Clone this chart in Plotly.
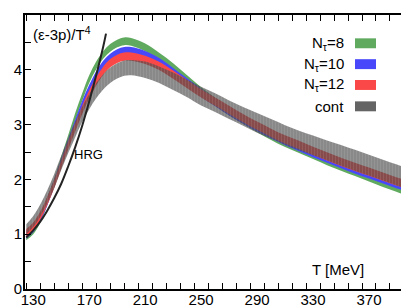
import plotly.graph_objects as go

T = [125, 130, 135, 140, 145, 150, 155, 160, 165, 170, 175, 180, 185, 190, 195, 200,
     210, 220, 230, 240, 250, 260, 270, 280, 290, 300, 310, 320, 330, 340, 350, 360,
     370, 380, 390, 400]

nt8 = [0.96, 1.07, 1.28, 1.60, 1.95, 2.35, 2.74, 3.14, 3.50, 3.83, 4.08, 4.27, 4.40, 4.48, 4.52, 4.51,
       4.41, 4.24, 4.05, 3.83, 3.61, 3.42, 3.24, 3.08, 2.93, 2.79, 2.66, 2.55, 2.44, 2.33, 2.23, 2.13,
       2.03, 1.93, 1.84, 1.75]
nt8_err = [0.07] * 36

nt10 = [0.99, 1.11, 1.31, 1.60, 1.93, 2.30, 2.66, 3.02, 3.36, 3.65, 3.90, 4.09, 4.22, 4.30, 4.34, 4.34,
        4.27, 4.14, 3.96, 3.77, 3.58, 3.41, 3.24, 3.09, 2.95, 2.82, 2.70, 2.59, 2.48, 2.38, 2.28, 2.18,
        2.09, 2.00, 1.91, 1.83]
nt10_err = [0.075] * 36

nt12 = [1.02, 1.14, 1.34, 1.61, 1.92, 2.27, 2.62, 2.95, 3.27, 3.55, 3.79, 3.98, 4.12, 4.20, 4.24, 4.24,
        4.18, 4.07, 3.91, 3.74, 3.57, 3.42, 3.27, 3.12, 2.98, 2.85, 2.73, 2.63, 2.52, 2.42, 2.32, 2.23,
        2.14, 2.05, 1.96, 1.88]
nt12_err = [0.075] * 36

cont = [1.09, 1.23, 1.43, 1.68, 1.97, 2.30, 2.62, 2.91, 3.19, 3.42, 3.62, 3.78, 3.90, 3.98, 4.03, 4.04,
        4.00, 3.91, 3.79, 3.66, 3.52, 3.40, 3.27, 3.15, 3.03, 2.92, 2.81, 2.71, 2.62, 2.53, 2.44, 2.35,
        2.26, 2.17, 2.08, 1.99]
cont_err = [0.09, 0.10, 0.11, 0.12, 0.13, 0.13, 0.14, 0.14, 0.14, 0.14, 0.14, 0.14, 0.14, 0.14, 0.14, 0.14,
            0.15, 0.15, 0.16, 0.16, 0.17, 0.17, 0.17, 0.17, 0.18, 0.18, 0.18, 0.18, 0.18, 0.18, 0.19, 0.19,
            0.19, 0.19, 0.19, 0.19]

T_hrg = [125, 130, 135, 140, 145, 150, 155, 160, 165, 170, 175, 180, 182]
hrg = [0.94, 1.07, 1.23, 1.43, 1.66, 1.92, 2.24, 2.59, 2.98, 3.42, 3.90, 4.42, 4.66]

x_labels = [130, 170, 210, 250, 290, 330, 370]
y_labels = [0, 1, 2, 3, 4]

bands = [
    ("N<sub>τ</sub>=8", nt8, nt8_err, "rgb(96,170,96)"),
    ("N<sub>τ</sub>=10", nt10, nt10_err, "rgb(72,72,250)"),
    ("N<sub>τ</sub>=12", nt12, nt12_err, "rgb(250,72,72)"),
    ("cont", cont, cont_err, "rgba(75,75,75,0.66)"),
]

fig = go.Figure()
for name, c, e, col in bands:
    lo = [a - b for a, b in zip(c, e)]
    hi = [a + b for a, b in zip(c, e)]
    fig.add_trace(go.Scatter(x=T, y=lo, mode="lines", line=dict(width=0, shape="spline"),
                             showlegend=False, hoverinfo="skip"))
    kw = {}
    if name == "cont":
        kw["fillpattern"] = dict(shape="|", fgcolor="rgba(235,235,235,0.35)", bgcolor=col,
                                 size=3, solidity=0.2)
    fig.add_trace(go.Scatter(x=T, y=hi, mode="lines", line=dict(width=0, shape="spline"),
                             fill="tonexty", fillcolor=col, showlegend=False, name=name, **kw))

fig.add_trace(go.Scatter(x=T_hrg, y=hrg, mode="lines", line=dict(color="rgb(35,35,35)", width=2, shape="spline"),
                         showlegend=False))

fig.update_layout(
    width=409, height=307,
    margin=dict(l=17, r=8, t=5, b=26),
    plot_bgcolor="white", paper_bgcolor="white",
    font=dict(family="Liberation Sans, Arial, sans-serif", size=15, color="black"),
    showlegend=False,
    xaxis=dict(range=[124.1, 398.6], tickmode="linear", tick0=135, dtick=10, ticks="inside",
               ticklen=6, tickcolor="black", showticklabels=False, showline=True, linecolor="black",
               linewidth=1.5, mirror="ticks", showgrid=False, zeroline=False),
    xaxis2=dict(range=[124.1, 398.6], overlaying="x", side="bottom", tickvals=x_labels,
                ticktext=[str(v) for v in x_labels], ticks="", showline=False, showgrid=False,
                zeroline=False, ticklabelstandoff=0, anchor="y"),
    yaxis=dict(range=[0, 5], tickmode="linear", tick0=0, dtick=0.5, ticks="inside", ticklen=6,
               tickcolor="black", showticklabels=False, showline=True, linecolor="black",
               linewidth=1.5, mirror="ticks", showgrid=False, zeroline=False),
    yaxis2=dict(range=[0, 5], overlaying="y", side="left", tickvals=y_labels,
                ticks="", showline=False, showgrid=False, zeroline=False, anchor="x",
                ticklabelstandoff=2),
)
fig.add_trace(go.Scatter(x=[None], y=[None], xaxis="x2", yaxis="y2", showlegend=False))

leg_y = [33.5, 54.5, 75.5, 97]
for (name, c, e, col), yy in zip(bands, leg_y):
    yp = 1 - (yy - 5) / 276
    fig.add_annotation(xref="paper", yref="paper", x=(338 - 17) / 384, y=yp, text=name,
                       showarrow=False, xanchor="right", yanchor="middle", font=dict(size=15))
    swcol = "rgb(100,100,100)" if name == "cont" else col
    fig.add_shape(type="rect", xref="paper", yref="paper",
                  x0=(347 - 17) / 384, x1=(368 - 17) / 384,
                  y0=yp - 5 / 276, y1=yp + 5 / 276, fillcolor=swcol, line=dict(width=0))

fig.add_annotation(xref="paper", yref="paper", x=(23 - 17) / 384, y=1 - (24 - 5) / 276,
                   text="(ε-3p)/T<sup>4</sup>", showarrow=False, xanchor="left", yanchor="middle")
fig.add_annotation(xref="paper", yref="paper", x=(64 - 17) / 384, y=1 - (146 - 5) / 276,
                   text="HRG", showarrow=False, xanchor="left", yanchor="middle", font=dict(size=13))
fig.add_annotation(xref="paper", yref="paper", x=(358 - 17) / 384, y=1 - (261 - 5) / 276,
                   text="T [MeV]", showarrow=False, xanchor="right", yanchor="middle")

fig.write_html("out.html")
